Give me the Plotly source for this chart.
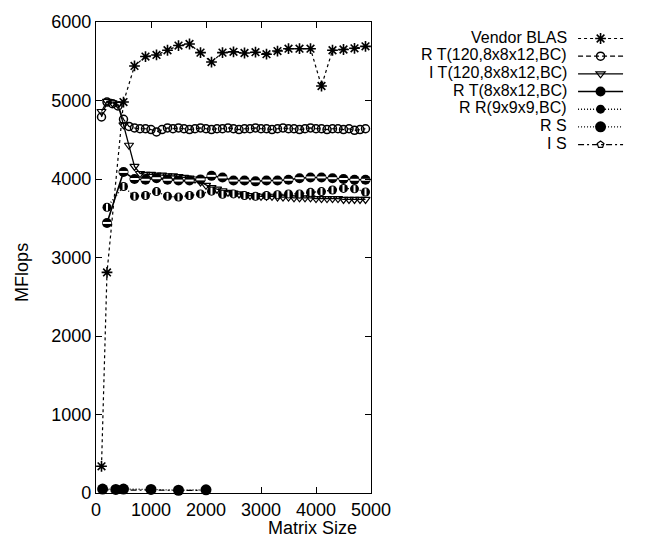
import plotly.graph_objects as go

# ---- data -------------------------------------------------------------
labels = [
    "Vendor BLAS",
    "R T(120,8x8x12,BC)",
    "I T(120,8x8x12,BC)",
    "R T(8x8x12,BC)",
    "R R(9x9x9,BC)",
    "R S",
    "I S",
]

vendor_x = [100, 200, 500, 700, 900, 1100, 1300, 1500, 1700, 1900, 2100, 2300,
            2500, 2700, 2900, 3100, 3300, 3500, 3700, 3900, 4100, 4300, 4500,
            4700, 4900]
vendor_y = [340, 2810, 4980, 5440, 5560, 5580, 5640, 5700, 5720, 5610, 5490,
            5610, 5620, 5605, 5615, 5590, 5630, 5660, 5660, 5660, 5185, 5640,
            5650, 5665, 5690]

t120_x = list(range(100, 5000, 100))
rt120_y = [4790, 4980, 4960, 4930, 4760, 4670, 4650, 4640, 4640, 4630,
           4600, 4630, 4650, 4640, 4650, 4640, 4630, 4640, 4650, 4640,
           4630, 4640, 4640, 4650, 4640, 4630, 4640, 4640, 4650, 4640,
           4640, 4630, 4640, 4650, 4640, 4640, 4630, 4640, 4650, 4640,
           4640, 4630, 4640, 4640, 4630, 4640, 4620, 4630, 4640]
it120_y = [4860, 4990, 4970, 4950, 4690, 4430, 4160, 4070, 4060, 4060,
           4050, 4050, 4040, 4040, 4030, 4020, 4010, 4000, 3960, 3920,
           3890, 3870, 3850, 3830, 3820, 3810, 3800, 3790, 3790, 3780,
           3780, 3780, 3770, 3770, 3770, 3760, 3760, 3760, 3760, 3750,
           3750, 3750, 3750, 3750, 3740, 3740, 3740, 3740, 3740]

t8_x = [200, 500, 700, 900, 1100, 1300, 1500, 1700, 1900, 2100, 2300, 2500,
        2700, 2900, 3100, 3300, 3500, 3700, 3900, 4100, 4300, 4500, 4700, 4900]
rt8_y = [3440, 4090, 4000, 3990, 4010, 3990, 3980, 3980, 3995, 4040, 4020,
         3980, 3980, 3970, 3980, 3980, 3990, 4010, 4020, 4020, 4010, 4000,
         3990, 3990]
rr9_y = [3640, 3905, 3780, 3790, 3840, 3780, 3770, 3790, 3810, 3845, 3805,
         3810, 3790, 3780, 3790, 3800, 3810, 3810, 3830, 3840, 3860, 3880,
         3875, 3835]

s_x = [120, 360, 500, 1000, 1500, 2000]
rs_y = [50, 45, 50, 45, 35, 40]
is_y = [40, 38, 42, 36, 30, 32]

x_ticks = [0, 1000, 2000, 3000, 4000, 5000]
y_ticks = [0, 1000, 2000, 3000, 4000, 5000, 6000]

# ---- styling ----------------------------------------------------------
FONT = "Liberation Sans, Arial, Helvetica, sans-serif"
FS = 18          # axis text
FS_KEY = 16      # key labels
L, R, T, B = 96, 375, 16, 493   # plot-area edges in page pixels
W, H = 645, 544

series = [
    dict(x=vendor_x, y=vendor_y, dash="3px,3px", width=1.2,
         marker=dict(symbol="asterisk-open", size=9,
                     line=dict(color="black", width=1.6))),
    dict(x=t120_x, y=rt120_y, dash="5px,3px", width=1.2,
         marker=dict(symbol="circle-open", size=8, color="black",
                     line=dict(color="black", width=1.5))),
    dict(x=t120_x, y=it120_y, dash="solid", width=1.3,
         marker=dict(symbol="triangle-down-open", size=8, color="black",
                     line=dict(color="black", width=1.2))),
    dict(x=t8_x, y=rt8_y, dash="solid", width=1.6,
         marker=dict(symbol="circle", size=10, color="black",
                     line=dict(color="black", width=0))),
    dict(x=t8_x, y=rr9_y, dash="1px,2px", width=1.4,
         marker=dict(symbol="circle", size=9, color="black",
                     line=dict(color="black", width=0))),
    dict(x=s_x, y=rs_y, dash="1px,2px", width=1.4,
         marker=dict(symbol="circle", size=11, color="black",
                     line=dict(color="black", width=0))),
    dict(x=s_x, y=is_y, dash="6px,3px,2px,3px", width=1.2,
         marker=dict(symbol="pentagon-open", size=7, color="black",
                     line=dict(color="black", width=1.2))),
]

fig = go.Figure()

legend_names = ["legend"] + [f"legend{i}" for i in range(2, 8)]
row_y = [32.7 + 17.9 * i for i in range(len(labels))]

for i, s in enumerate(series):
    fig.add_trace(go.Scatter(
        x=s["x"], y=s["y"], mode="lines+markers", name="",
        line=dict(color="black", width=s["width"], dash=s["dash"]),
        marker=s["marker"], cliponaxis=False,
        legend=legend_names[i], showlegend=True,
    ))
    # white bars inside the filled circles give the half-shaded look
    if i == 3:
        fig.add_trace(go.Scatter(
            x=s["x"], y=s["y"], mode="markers", showlegend=False,
            marker=dict(symbol="line-ew", size=6,
                        line=dict(color="white", width=2)),
            cliponaxis=False, hoverinfo="skip"))
    if i == 4:
        fig.add_trace(go.Scatter(
            x=s["x"], y=s["y"], mode="markers", showlegend=False,
            marker=dict(symbol="line-ns", size=5,
                        line=dict(color="white", width=2)),
            cliponaxis=False, hoverinfo="skip"))


def px_x(p):
    return (p - L) / (R - L)


def px_y(p):
    return (B - p) / (B - T)


layout_legends = {}
for i, name in enumerate(legend_names):
    layout_legends[name] = dict(
        x=px_x(580), y=px_y(row_y[i]), xanchor="left", yanchor="middle",
        bgcolor="rgba(0,0,0,0)", borderwidth=0, itemwidth=45,
        font=dict(family=FONT, size=10, color="black"),
    )

annotations = []
for i, lab in enumerate(labels):
    annotations.append(dict(
        x=px_x(576), y=px_y(row_y[i] - 1.5), xref="paper", yref="paper",
        text=lab, showarrow=False, xanchor="right", yanchor="middle",
        font=dict(family=FONT, size=FS_KEY, color="black")))

annotations.append(dict(
    x=px_x(315.5), y=px_y(528), xref="paper", yref="paper",
    text="Matrix Size", showarrow=False, xanchor="center", yanchor="middle",
    font=dict(family=FONT, size=FS, color="black")))
annotations.append(dict(
    x=px_x(21), y=px_y(270), xref="paper", yref="paper",
    text="MFlops", showarrow=False, textangle=-90,
    xanchor="center", yanchor="middle",
    font=dict(family=FONT, size=FS, color="black")))

axis_common = dict(
    showline=True, linecolor="black", linewidth=1.2, mirror="ticks",
    ticks="inside", ticklen=6, tickwidth=1.2, tickcolor="black",
    showgrid=False, zeroline=False,
    tickfont=dict(family=FONT, size=FS, color="black"),
)

fig.update_layout(
    width=W, height=H,
    margin=dict(l=L, r=W - R, t=T, b=H - B, pad=0),
    paper_bgcolor="white", plot_bgcolor="white",
    font=dict(family=FONT, size=FS, color="black"),
    xaxis=dict(range=[0, 5000], tickvals=x_ticks, **axis_common),
    yaxis=dict(range=[0, 6000], tickvals=y_ticks, **axis_common),
    annotations=annotations,
    **layout_legends,
)

fig.write_html("out.html")
